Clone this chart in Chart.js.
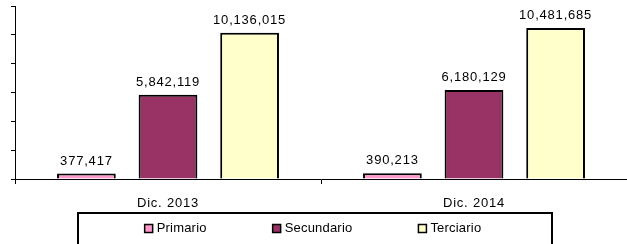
<!DOCTYPE html>
<html>
<head>
<meta charset="utf-8">
<script src="https://cdn.jsdelivr.net/npm/chart.js@4.4.0/dist/chart.umd.min.js"></script>
<style>
  html, body { margin: 0; padding: 0; background: #fff; }
  #wrap { width: 627px; height: 244px; position: relative; }
</style>
</head>
<body>
<div id="wrap"><canvas id="c" width="627" height="244"></canvas></div>
<script>
const categories = ["Dic. 2013", "Dic. 2014"];
const seriesNames = ["Primario", "Secundario", "Terciario"];
const primario = [377417, 390213];
const secundario = [5842119, 6180129];
const terciario = [10136015, 10481685];
const seriesColors = ["#FF99CC", "#993366", "#FFFFCC"];
const yMax = 12000000;
const yStep = 2000000;

const FONT = "'Liberation Sans', Arial, sans-serif";
const LS = '0.8px';

const valueLabels = {
  id: 'valueLabels',
  afterDatasetsDraw(chart) {
    const ctx = chart.ctx;
    ctx.save();
    ctx.font = '13px ' + FONT;
    ctx.letterSpacing = LS;
    ctx.fillStyle = '#000';
    ctx.textAlign = 'center';
    ctx.textBaseline = 'bottom';
    chart.data.datasets.forEach((ds, i) => {
      const meta = chart.getDatasetMeta(i);
      meta.data.forEach((el, j) => {
        ctx.fillText(ds.data[j].toLocaleString('en-US'), el.x, el.y - 6);
      });
    });
    ctx.restore();
  }
};

const boxedLegend = {
  id: 'boxedLegend',
  afterDraw(chart) {
    const ctx = chart.ctx;
    ctx.save();
    const boxL = 78, boxR = 552, boxT = 213;
    ctx.strokeStyle = '#000';
    ctx.lineWidth = 2;
    ctx.strokeRect(boxL, boxT, boxR - boxL, 60);
    ctx.font = '13px ' + FONT;
    ctx.letterSpacing = '0.2px';
    ctx.textBaseline = 'middle';
    ctx.textAlign = 'left';
    const sq = 8, gapText = 4, gap = 66;
    const items = chart.data.datasets.map(ds => ({
      label: ds.label, color: ds.backgroundColor,
      w: sq + gapText + ctx.measureText(ds.label).width
    }));
    const total = items.reduce((s, it) => s + it.w, 0) + gap * (items.length - 1);
    let x = (boxL + boxR) / 2 - total / 2 - 2;
    const cy = 228.5;
    items.forEach(it => {
      ctx.fillStyle = it.color;
      ctx.fillRect(x, cy - sq / 2, sq, sq);
      ctx.lineWidth = 1.5;
      ctx.strokeRect(x, cy - sq / 2, sq, sq);
      ctx.fillStyle = '#000';
      ctx.fillText(it.label, x + sq + gapText, cy);
      x += it.w + gap;
    });
    ctx.restore();
  }
};

const letterSpacingPlugin = {
  id: 'ls',
  beforeDraw(chart) { chart.ctx.letterSpacing = LS; }
};

new Chart(document.getElementById('c'), {
  type: 'bar',
  data: {
    labels: categories,
    datasets: [
      { label: seriesNames[0], data: primario, backgroundColor: seriesColors[0] },
      { label: seriesNames[1], data: secundario, backgroundColor: seriesColors[1] },
      { label: seriesNames[2], data: terciario, backgroundColor: seriesColors[2] }
    ].map(d => Object.assign(d, { borderColor: '#000', borderWidth: 2, barPercentage: 0.72, categoryPercentage: 0.8 }))
  },
  options: {
    responsive: false,
    animation: false,
    devicePixelRatio: 1,
    layout: { padding: { top: 6, left: 0, right: -4, bottom: 0 } },
    plugins: { legend: { display: false }, tooltip: { enabled: false } },
    scales: {
      x: {
        grid: { display: true, drawOnChartArea: false, drawTicks: true, tickLength: 5, color: '#000', offset: true },
        border: { display: true, color: '#000', width: 1 },
        ticks: { color: '#000', font: { family: FONT, size: 13 }, padding: 12, maxRotation: 0 },
        afterFit(scale) { scale.height = 65; }
      },
      y: {
        min: 0, max: yMax,
        grid: { display: true, drawOnChartArea: false, drawTicks: true, tickLength: 4, color: '#000' },
        border: { display: true, color: '#000', width: 1 },
        ticks: { display: false, stepSize: yStep },
        afterFit(scale) { scale.width = 15; }
      }
    }
  },
  plugins: [letterSpacingPlugin, valueLabels, boxedLegend]
});
</script>
</body>
</html>
